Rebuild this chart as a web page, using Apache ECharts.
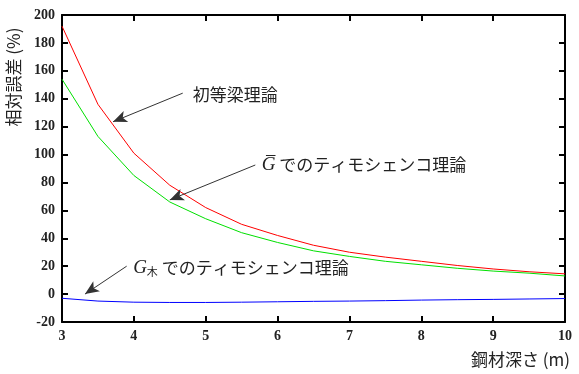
<!DOCTYPE html>
<html>
<head>
<meta charset="utf-8">
<script src="https://cdn.jsdelivr.net/npm/echarts@6/dist/echarts.min.js"></script>
<style>html,body{margin:0;padding:0;background:#fff}#c{width:579px;height:374px}</style>
</head>
<body>
<div id="c"></div>
<script>
const depth = [3, 3.5, 4, 4.5, 5, 5.5, 6, 6.5, 7, 7.5, 8, 8.5, 9, 9.5, 10];
const elementary = [192, 136, 101, 78, 62, 50, 42, 35, 30, 26.5, 23.5, 20.5, 18, 16, 14.5];
const timoBar = [154, 113, 85, 66, 54, 44, 37, 31, 27, 23.5, 21, 18.5, 16.5, 15, 13];
const timoWood = [-3, -5, -5.8, -6, -6, -5.8, -5.5, -5.2, -5, -4.7, -4.3, -4, -3.8, -3.5, -3.2];
const xTicks = [3, 4, 5, 6, 7, 8, 9, 10];
const yTicks = [-20, 0, 20, 40, 60, 80, 100, 120, 140, 160, 180, 200];
const labelElem = '初等梁理論';
const labelBar = 'でのティモシェンコ理論';
const labelWood = 'でのティモシェンコ理論';
const yTitle = '相対誤差 (%)';
const xTitle = '鋼材深さ (m)';

const pair = (xs, ys) => xs.map((x, i) => [x, ys[i]]);
const serif = 'Liberation Serif';
const cjk = 'Noto Sans CJK JP';
const axisCommon = {
  type: 'value', min: 3, max: 10, interval: 1,
  axisLine: { show: true, onZero: false, lineStyle: { color: '#000', width: 2 } },
  axisTick: { show: true, inside: true, length: 6, lineStyle: { color: '#000', width: 2 } },
  splitLine: { show: false }
};
const yCommon = {
  type: 'value', min: -20, max: 200, interval: 20,
  axisLine: { show: true, onZero: false, lineStyle: { color: '#000', width: 2 } },
  axisTick: { show: true, inside: true, length: 6, lineStyle: { color: '#000', width: 2 } },
  splitLine: { show: false }
};
const chart = echarts.init(document.getElementById('c'));
chart.setOption({
  animation: false,
  backgroundColor: '#fff',
  grid: { left: 62, right: 14, top: 15, bottom: 52 },
  xAxis: [
    Object.assign({}, axisCommon, { position: 'bottom',
      axisLabel: { show: true, margin: 7, color: '#222', fontFamily: serif, fontWeight: 'bold', fontSize: 14 } }),
    Object.assign({}, axisCommon, { position: 'top', axisLabel: { show: false } })
  ],
  yAxis: [
    Object.assign({}, yCommon, { position: 'left',
      axisLabel: { show: true, margin: 7, color: '#222', fontFamily: serif, fontWeight: 'bold', fontSize: 14 } }),
    Object.assign({}, yCommon, { position: 'right', axisLabel: { show: false } })
  ],
  graphic: [
    { type: 'text', x: 14, y: 77, rotation: Math.PI / 2,
      style: { text: yTitle, font: '17px "Noto Sans CJK JP"', fill: '#222', align: 'center', verticalAlign: 'middle' } },
    { type: 'text', x: 570, y: 360,
      style: { text: xTitle, font: '17px "Noto Sans CJK JP"', fill: '#222', align: 'right', verticalAlign: 'middle' } }
  ],
  series: [
    { type: 'line', data: pair(depth, elementary), showSymbol: false, lineStyle: { color: '#ff0000', width: 1 }, itemStyle: { color: '#ff0000' } },
    { type: 'line', data: pair(depth, timoBar), showSymbol: false, lineStyle: { color: '#00e000', width: 1 }, itemStyle: { color: '#00e000' } },
    { type: 'line', data: pair(depth, timoWood), showSymbol: false, lineStyle: { color: '#0000ff', width: 1 }, itemStyle: { color: '#0000ff' },
      markLine: {
        silent: true, symbol: ['none', 'arrow'], symbolSize: [9, 14],
        label: { show: false },
        lineStyle: { color: '#333', width: 1, type: 'solid' },
        data: [
          [{ coord: [4.68, 144] }, { coord: [3.71, 123.5] }],
          [{ coord: [5.69, 92.5] }, { coord: [4.5, 67.5] }],
          [{ coord: [3.9, 20] }, { coord: [3.32, 0] }]
        ]
      },
      markPoint: {
        silent: true, symbol: 'circle', symbolSize: 0,
        label: { show: true, position: 'right', distance: 0, color: '#222', fontFamily: cjk, fontSize: 17,
          rich: {
            g: { fontFamily: serif, fontStyle: 'italic', fontSize: 19, color: '#222' },
            sub: { fontFamily: cjk, fontSize: 11, color: '#222', verticalAlign: 'bottom', padding: [8, 0, 0, 0] },
            t: { fontFamily: cjk, fontSize: 17, color: '#222' }
          } },
        data: [
          { coord: [4.82, 142.7], label: { formatter: '{t|' + labelElem + '}' } },
          { coord: [5.78, 92.5], label: { formatter: '{g|G\u0305} {t|' + labelBar + '}' } },
          { coord: [3.99, 18.7], label: { formatter: '{g|G}{sub|木} {t|' + labelWood + '}' } }
        ]
      }
    }
  ]
});
</script>
</body>
</html>
